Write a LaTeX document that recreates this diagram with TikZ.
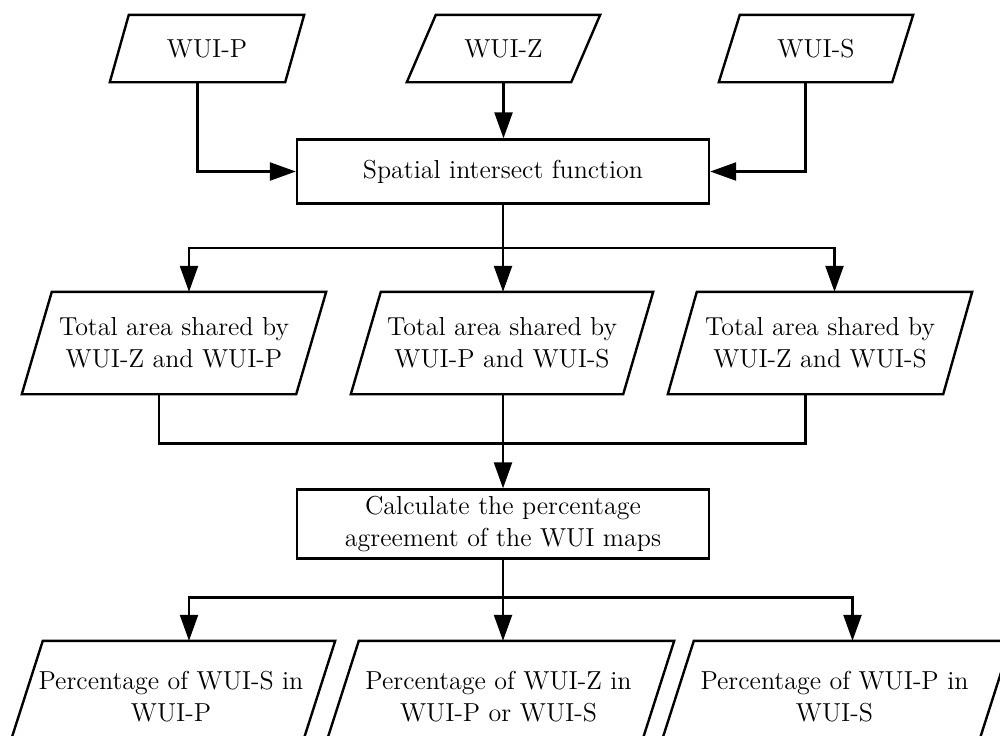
\documentclass[tikz,border=0pt]{standalone}
\usetikzlibrary{arrows.meta,calc}
\begin{document}
\begin{tikzpicture}[x=0.5pt,y=-0.5pt,line width=1.2pt,
  font=\fontsize{13}{16}\selectfont,
  io/.style={rectangle,align=center,inner sep=0pt},
  proc/.style={draw,rectangle,align=center,minimum width=206pt,minimum height=32pt},
  flow/.style={-{Triangle[length=13pt,width=9pt]}}]
\useasboundingbox (0,0) rectangle (1000,735);
\clip (0,0) rectangle (1000,735);
% inputs
\node[io,minimum width=86.5pt,minimum height=32.5pt] (wuip) at (207,48.5) {WUI-P};
\node[io,minimum width=81pt,minimum height=32.5pt] (wuiz) at (503.5,48.5) {WUI-Z};
\node[io,minimum width=85.5pt,minimum height=32.5pt] (wuis) at (816,48.5) {WUI-S};
\node[proc] (spatial) at (503,171.5) {Spatial intersect function};
% shared areas
\node[io,minimum width=136pt,minimum height=50pt] (shzp) at (174,343) {Total area shared by\\WUI-Z and WUI-P};
\node[io,minimum width=135pt,minimum height=50pt] (shps) at (502,343) {Total area shared by\\WUI-P and WUI-S};
\node[io,minimum width=136.5pt,minimum height=50pt] (shzs) at (820,343) {Total area shared by\\WUI-Z and WUI-S};
\node[proc] (calc) at (503,524) {Calculate the percentage\\agreement of the WUI maps};
% percentages
\node[io,minimum width=145pt,minimum height=55pt] (pcts) at (171,697) {Percentage of WUI-S in\\WUI-P};
\node[io,minimum width=156.5pt,minimum height=55pt] (pctz) at (498.5,697) {Percentage of WUI-Z in\\WUI-P or WUI-S};
\node[io,minimum width=157.5pt,minimum height=55pt] (pctp) at (834.5,697) {Percentage of WUI-P in\\WUI-S};
% parallelogram outlines
\foreach \n/\s in {wuip/19,wuiz/29,wuis/21,shzp/30,shps/30,shzs/29,pcts/36,pctz/36,pctp/36}
  \draw ($(\n.north west)+(\s/2,0)$) -- ($(\n.north east)+(\s/2,0)$)
    -- ($(\n.south east)-(\s/2,0)$) -- ($(\n.south west)-(\s/2,0)$) -- cycle;
\coordinate (wuip-out) at ($(wuip.south)-(9.5,0)$);
\coordinate (wuis-out) at ($(wuis.south)-(10.5,0)$);
\coordinate (shzp-in) at ($(shzp.north)+(15,0)$);
\coordinate (shzs-in) at ($(shzs.north)+(14.5,0)$);
\coordinate (shzp-out) at ($(shzp.south)-(15,0)$);
\coordinate (shzs-out) at ($(shzs.south)-(14.5,0)$);
\coordinate (pcts-in) at ($(pcts.north)+(18,0)$);
\coordinate (pctp-in) at ($(pctp.north)+(18,0)$);
\coordinate (bus1) at ($(spatial.south)+(0,43)$);
\coordinate (bus2) at ($(calc.north)+(0,-45)$);
\coordinate (bus3) at ($(calc.south)+(0,38)$);
\draw[flow] (wuip-out) |- (spatial.west);
\draw[flow] (wuiz.south) -- (wuiz.south |- spatial.north);
\draw[flow] (wuis-out) |- (spatial.east);
\draw (spatial.south) -- (bus1);
\draw[flow] (bus1) -| (shzp-in);
\draw[flow] (bus1) -- (bus1 |- shps.north);
\draw[flow] (bus1) -| (shzs-in);
\draw (shzp-out) |- (bus2);
\draw (shzs-out) |- (bus2);
\draw[flow] (bus2 |- shps.south) -- (calc.north);
\draw (calc.south) -- (bus3);
\draw[flow] (bus3) -| (pcts-in);
\draw[flow] (bus3) -- (bus3 |- pctz.north);
\draw[flow] (bus3) -| (pctp-in);
\end{tikzpicture}
\end{document}
